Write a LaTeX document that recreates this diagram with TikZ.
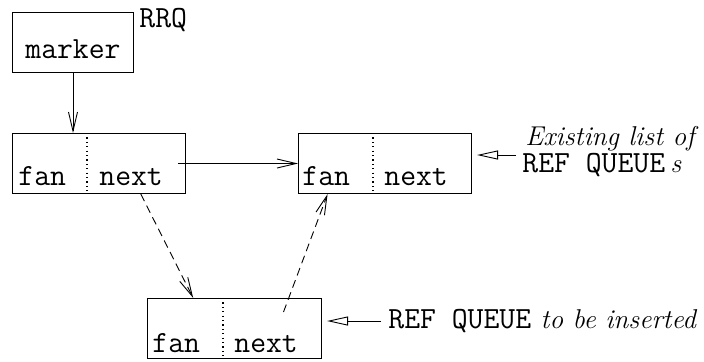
\documentclass[tikz,border=0pt]{standalone}
\usepackage{fontspec}
\usetikzlibrary{arrows.meta,calc}
\begin{document}
\begin{tikzpicture}[x=0.5pt,y=-0.5pt,
  every node/.style={font=\fontsize{15.4}{18}\selectfont},
  cell/.style={draw, line width=0.5pt, minimum width=86.5pt, minimum height=30pt, inner sep=0pt, anchor=north west},
  txt/.style={anchor=base west, inner sep=0pt, font=\fontsize{15.4}{18}\selectfont\ttfamily},
  lab/.style={anchor=base west, inner sep=0pt},
  itl/.style={font=\fontsize{13.6}{16}\selectfont\rmfamily\itshape},
  divider/.style={line width=0.6pt, dash pattern=on 0.6pt off 1.6pt},
  link/.style={line width=0.45pt, -{Straight Barb[length=9.5pt,width=4.5pt]}},
  dlink/.style={link, dash pattern=on 4pt off 2.5pt},
  hollow/.style={line width=0.45pt, -{Triangle[open,length=10.5pt,width=4.5pt]}}]
\useasboundingbox (0,0) rectangle (704,361);
% marker box
\node[cell, minimum width=60.5pt] (mk) at (12,12) {};
\node[txt] (mktext) at (25,58) {marker};
\node[txt] (rrq) at (139,27) {RRQ};
% boxes
\node[cell] (b1) at (12,133) {};
\node[cell] (b2) at (298,133) {};
\node[cell, minimum width=87pt] (b3) at (147,298) {};
\draw[divider] (87,133) -- (87,193);
\draw[divider] (373,133) -- (373,193);
\draw[divider] (223,298) -- (223,358);
\node[txt] (f1) at (18,185) {fan};
\node[txt] (n1) at (99,185) {next};
\node[txt] (f2) at (302,185) {fan};
\node[txt] (n2) at (384,185) {next};
\node[txt] (f3) at (152,352) {fan};
\node[txt] (n3) at (234,352) {next};
% labels
\node[lab, itl] (ex) at (525,145) {Existing list of};
\node[lab] (rq) at (522,172) {\ttfamily REF QUEUE\,{\fontsize{13.6}{16}\selectfont\rmfamily\itshape s}};
\node[lab] (ins) at (388,328) {\ttfamily REF QUEUE{\fontsize{13.6}{16}\selectfont\rmfamily\itshape{} to be inserted}};
% connectors
\draw[link] (mk.south) -- (mk.south |- b1.north);
\draw[link] ($(b1.east)+(-8,0)$) -- (b2.west);
\draw[dlink] ($(b1.south west)!0.74!(b1.south east)$) -- ($(b3.north west)!0.264!(b3.north east)$);
\draw[dlink] ($(b3.north west)!0.78!(b3.north east)+(0,14)$) -- ($(b2.south west)!0.17!(b2.south east)$);
\coordinate (s2) at (516,155);
\coordinate (s3) at (381,321);
\draw[hollow] (s2) -- (s2 -| 477,0);
\draw[hollow] (s3) -- (s3 -| 327,0);
\end{tikzpicture}
\end{document}
